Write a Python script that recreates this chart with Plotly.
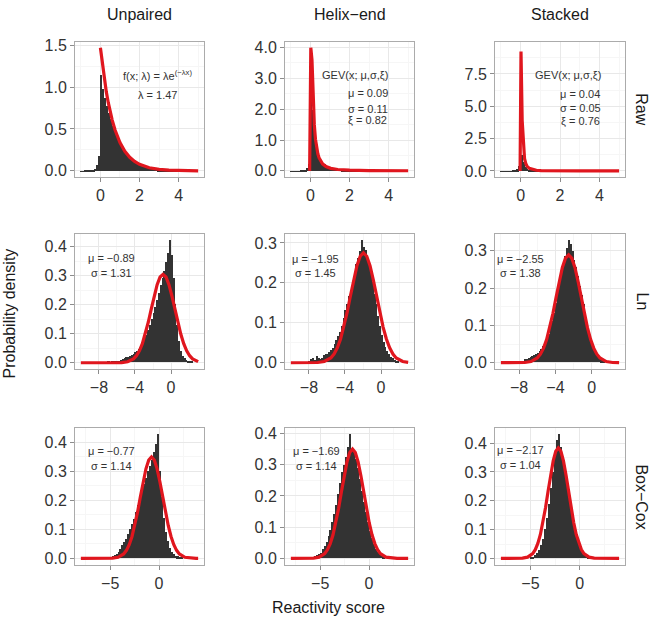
import plotly.graph_objects as go

W, H = 652, 620

col_labels = ["Unpaired", "Helix−end", "Stacked"]
row_labels = ["Raw", "Ln", "Box−Cox"]
x_title = "Reactivity score"
y_title = "Probability density"

# ---------------- histogram bin heights (probability density) ----------------
raw_bin_start, raw_bin_width = -1.0, 0.1
raw_unpaired_hist = [0.003, 0.003, 0.004, 0.004, 0.005, 0.006, 0.01, 0.03, 0.07, 0.18,
                     1.15, 0.98, 0.87, 0.78, 0.70, 0.62, 0.54, 0.47, 0.41, 0.36,
                     0.32, 0.27, 0.23, 0.20, 0.17, 0.145, 0.125, 0.11, 0.095, 0.08,
                     0.07, 0.06, 0.052, 0.045, 0.04, 0.035, 0.03, 0.027, 0.024, 0.02,
                     0.018, 0.016, 0.014, 0.012, 0.011, 0.01, 0.009, 0.008, 0.007, 0.006]
raw_helix_hist = [0.005, 0.005, 0.006, 0.006, 0.008, 0.01, 0.02, 0.05, 0.10, 0.25,
                  3.0, 2.0, 1.1, 0.66, 0.45, 0.34, 0.27, 0.22, 0.18, 0.15,
                  0.13, 0.11, 0.095, 0.085, 0.075, 0.065, 0.058, 0.052, 0.047, 0.042,
                  0.038, 0.034, 0.031, 0.028, 0.025, 0.023, 0.021, 0.019, 0.017, 0.015,
                  0.014, 0.013, 0.012, 0.011, 0.01, 0.009, 0.008, 0.007, 0.006, 0.005]
raw_stacked_hist = [0.01, 0.01, 0.01, 0.012, 0.015, 0.02, 0.03, 0.06, 0.15, 0.45,
                    1.25, 0.75, 0.35, 0.20, 0.13, 0.10, 0.08, 0.065, 0.055, 0.045,
                    0.04, 0.035, 0.03, 0.027, 0.024, 0.021, 0.019, 0.017, 0.015, 0.013,
                    0.012, 0.011, 0.01, 0.009, 0.008, 0.007, 0.007, 0.006, 0.006, 0.005,
                    0.005, 0.004, 0.004, 0.004, 0.003, 0.003, 0.003, 0.003, 0.002, 0.002]

ln_bin_width = 0.2
ln_unpaired_start = -7.0
ln_unpaired_hist = [0.002, 0.0, 0.003, 0.002, 0.004, 0.005, 0.006, 0.008, 0.01, 0.015,
                    0.02, 0.018, 0.022, 0.026, 0.03, 0.034, 0.04, 0.047, 0.055, 0.07,
                    0.085, 0.095, 0.11, 0.13, 0.15, 0.17, 0.19, 0.215, 0.24, 0.265,
                    0.29, 0.315, 0.345, 0.375, 0.42, 0.37, 0.29, 0.20, 0.13, 0.075,
                    0.04, 0.022, 0.014, 0.008, 0.005, 0.003, 0.002]
ln_helix_start = -8.0
ln_helix_hist = [0.003, 0.008, 0.012, 0.006, 0.015, 0.01, 0.008, 0.012, 0.018, 0.02,
                 0.022, 0.025, 0.03, 0.035, 0.045, 0.055, 0.065, 0.075, 0.09, 0.11,
                 0.13, 0.145, 0.165, 0.18, 0.20, 0.225, 0.245, 0.26, 0.28, 0.306,
                 0.29, 0.282, 0.265, 0.25, 0.225, 0.20, 0.17, 0.145, 0.115, 0.09,
                 0.068, 0.05, 0.038, 0.028, 0.02, 0.014, 0.01, 0.007, 0.004, 0.002]
ln_stacked_start = -7.6
ln_stacked_hist = [0.004, 0.008, 0.01, 0.012, 0.015, 0.018, 0.02, 0.022, 0.026, 0.03,
                   0.036, 0.043, 0.052, 0.063, 0.076, 0.092, 0.11, 0.133, 0.16, 0.19,
                   0.215, 0.24, 0.262, 0.285, 0.305, 0.327, 0.318, 0.298, 0.275, 0.255,
                   0.23, 0.205, 0.18, 0.155, 0.128, 0.102, 0.08, 0.06, 0.045, 0.032,
                   0.022, 0.015, 0.009, 0.005, 0.002]

bc_bin_width = 0.2
bc_unpaired_start = -5.0
bc_unpaired_hist = [0.004, 0.007, 0.01, 0.016, 0.022, 0.032, 0.045, 0.057, 0.068, 0.082,
                    0.10, 0.118, 0.137, 0.16, 0.183, 0.207, 0.23, 0.255, 0.278, 0.30,
                    0.318, 0.34, 0.365, 0.395, 0.428, 0.30, 0.21, 0.14, 0.09, 0.058,
                    0.035, 0.022, 0.014, 0.009, 0.006, 0.004, 0.002]
bc_helix_start = -5.8
bc_helix_hist = [0.003, 0.006, 0.01, 0.013, 0.018, 0.028, 0.038, 0.052, 0.07, 0.09,
                 0.115, 0.143, 0.172, 0.205, 0.24, 0.275, 0.30, 0.325, 0.355, 0.397,
                 0.35, 0.342, 0.318, 0.29, 0.255, 0.215, 0.18, 0.148, 0.115, 0.088,
                 0.064, 0.045, 0.03, 0.019, 0.012, 0.007, 0.003]
bc_stacked_start = -5.0
bc_stacked_hist = [0.003, 0.006, 0.01, 0.018, 0.03, 0.045, 0.068, 0.10, 0.14, 0.19,
                   0.245, 0.30, 0.36, 0.41, 0.43, 0.385, 0.35, 0.315, 0.27, 0.222,
                   0.178, 0.14, 0.105, 0.078, 0.056, 0.038, 0.025, 0.015, 0.009, 0.005, 0.003]

# ---------------- fitted density curves ----------------
raw_unpaired_curve_x = [0.0, 0.1, 0.2, 0.3, 0.4, 0.5, 0.6, 0.75, 1.0, 1.25, 1.5, 1.75, 2.0, 2.5, 3.0, 3.5, 4.0, 4.5, 5.0]
raw_unpaired_curve_y = [1.47, 1.269, 1.096, 0.946, 0.817, 0.705, 0.609, 0.488, 0.338, 0.234, 0.162, 0.112,
                        0.0777, 0.0373, 0.0179, 0.0086, 0.0041, 0.0020, 0.0009]
raw_helix_curve_x = [-0.04, 0.02, 0.08, 0.14, 0.20, 0.26, 0.32, 0.38, 0.44, 0.50, 0.62, 0.80, 1.04, 1.40, 2.0, 3.0, 4.0, 5.0]
raw_helix_curve_y = [0.0, 3.99, 3.60, 2.28, 1.49, 1.02, 0.737, 0.553, 0.427, 0.339, 0.227, 0.138, 0.081, 0.044,
                     0.021, 0.0087, 0.0047, 0.0029]
raw_stacked_curve_x = [-0.026, 0.02, 0.08, 0.14, 0.20, 0.26, 0.32, 0.44, 0.62, 0.80, 1.04, 1.40, 2.0, 3.0, 4.0, 5.0]
raw_stacked_curve_y = [0.0, 9.24, 3.90, 1.75, 0.944, 0.577, 0.383, 0.199, 0.096, 0.055, 0.031, 0.016, 0.0071,
                       0.0028, 0.0015, 0.0009]

ln_unpaired_curve_x = [-10.0, -8.0, -6.13, -5.475, -4.82, -4.165, -3.838, -3.51, -3.183, -2.855, -2.528, -2.20,
                       -1.873, -1.545, -1.218, -0.89, -0.563, -0.235, 0.093, 0.42, 0.748, 1.075, 1.403, 1.73,
                       2.058, 2.385, 3.0]
ln_unpaired_curve_y = [0.0, 0.0, 0.0001, 0.0007, 0.0034, 0.0134, 0.0242, 0.0412, 0.0659, 0.0989, 0.1394, 0.1847,
                       0.2299, 0.2687, 0.2951, 0.3045, 0.2951, 0.2687, 0.2299, 0.1847, 0.1394, 0.0989, 0.0659,
                       0.0412, 0.0242, 0.0134, 0.0037]
ln_helix_curve_x = [-10.0, -7.75, -7.025, -6.30, -5.575, -5.213, -4.85, -4.488, -4.125, -3.763, -3.40, -3.038,
                    -2.675, -2.313, -1.95, -1.588, -1.225, -0.863, -0.50, -0.138, 0.225, 0.588, 0.95, 1.313,
                    1.675, 2.40, 3.0]
ln_helix_curve_y = [0.0, 0.0001, 0.0006, 0.0031, 0.0121, 0.0219, 0.0372, 0.0595, 0.0893, 0.1259, 0.1669, 0.2077,
                    0.2428, 0.2666, 0.2751, 0.2666, 0.2428, 0.2077, 0.1669, 0.1259, 0.0893, 0.0595, 0.0372,
                    0.0219, 0.0121, 0.0031, 0.0008]
ln_stacked_curve_x = [-10.0, -8.07, -7.38, -6.69, -6.00, -5.655, -5.31, -4.965, -4.62, -4.275, -3.93, -3.585,
                      -3.24, -2.895, -2.55, -2.205, -1.86, -1.515, -1.17, -0.825, -0.48, -0.135, 0.21, 0.555,
                      0.90, 1.59, 2.28, 3.0]
ln_stacked_curve_y = [0.0, 0.0001, 0.0006, 0.0032, 0.0127, 0.0230, 0.0391, 0.0625, 0.0939, 0.1324, 0.1753,
                      0.2182, 0.2551, 0.2802, 0.2891, 0.2802, 0.2551, 0.2182, 0.1753, 0.1324, 0.0939, 0.0625,
                      0.0391, 0.0230, 0.0127, 0.0032, 0.0006, 0.0001]

bc_unpaired_curve_x = [-8.0, -5.33, -4.76, -4.19, -3.62, -3.335, -3.05, -2.765, -2.48, -2.195, -1.91, -1.625,
                       -1.34, -1.055, -0.77, -0.485, -0.20, 0.085, 0.37, 0.655, 0.94, 1.225, 1.51, 1.795, 2.08,
                       2.65, 3.22, 3.79, 4.0]
bc_unpaired_curve_y = [0.0, 0.0001, 0.0008, 0.0039, 0.0154, 0.0278, 0.0474, 0.0757, 0.1136, 0.1602, 0.2123,
                       0.2642, 0.3089, 0.3392, 0.35, 0.3392, 0.3089, 0.2642, 0.2123, 0.1602, 0.1136, 0.0757,
                       0.0474, 0.0278, 0.0154, 0.0039, 0.0008, 0.0001, 0.0001]
bc_helix_curve_x = [-8.0, -6.25, -5.68, -5.11, -4.54, -4.255, -3.97, -3.685, -3.40, -3.115, -2.83, -2.545,
                    -2.26, -1.975, -1.69, -1.405, -1.12, -0.835, -0.55, -0.265, 0.02, 0.305, 0.59, 0.875, 1.16,
                    1.73, 2.30, 2.87, 4.0]
bc_helix_curve_y = [0.0, 0.0001, 0.0008, 0.0039, 0.0154, 0.0278, 0.0474, 0.0757, 0.1136, 0.1602, 0.2123,
                    0.2642, 0.3089, 0.3392, 0.35, 0.3392, 0.3089, 0.2642, 0.2123, 0.1602, 0.1136, 0.0757,
                    0.0474, 0.0278, 0.0154, 0.0039, 0.0008, 0.0001, 0.0]
bc_stacked_curve_x = [-8.0, -6.33, -5.81, -5.29, -4.77, -4.51, -4.25, -3.99, -3.73, -3.47, -3.21, -2.95,
                      -2.69, -2.43, -2.17, -1.91, -1.65, -1.39, -1.13, -0.87, -0.61, -0.35, -0.09, 0.17, 0.43,
                      0.95, 1.47, 1.99, 4.0]
bc_stacked_curve_y = [0.0, 0.0001, 0.0008, 0.0043, 0.0169, 0.0305, 0.0519, 0.0830, 0.1245, 0.1756, 0.2327,
                      0.2896, 0.3385, 0.3718, 0.3836, 0.3718, 0.3385, 0.2896, 0.2327, 0.1756, 0.1245, 0.0830,
                      0.0519, 0.0305, 0.0169, 0.0043, 0.0008, 0.0001, 0.0]

# ---------------- fit labels ----------------
raw_unpaired_text = ["f(x; λ) = λe<sup>(−λx)</sup>", "λ = 1.47"]
raw_helix_text = ["GEV(x; μ,σ,ξ)", "μ = 0.09", "σ = 0.11", "ξ = 0.82"]
raw_stacked_text = ["GEV(x; μ,σ,ξ)", "μ = 0.04", "σ = 0.05", "ξ = 0.76"]
ln_unpaired_text = ["μ = −0.89", "σ = 1.31"]
ln_helix_text = ["μ = −1.95", "σ = 1.45"]
ln_stacked_text = ["μ = −2.55", "σ = 1.38"]
bc_unpaired_text = ["μ = −0.77", "σ = 1.14"]
bc_helix_text = ["μ = −1.69", "σ = 1.14"]
bc_stacked_text = ["μ = −2.17", "σ = 1.04"]

# ---------------- layout (pixels) ----------------
PANEL_X = [(75, 204), (285, 414), (495, 625)]
PANEL_Y = [(37, 174), (232, 368), (428, 566)]

ROW_XRANGE = [(-1.3, 5.3), (-10.65, 3.65), (-8.6, 4.6)]
ROW_XTICKS = [[0, 2, 4], [-8, -4, 0], [-5, 0]]
ROW_XTEXT = [["0", "2", "4"], ["−8", "−4", "0"], ["−5", "0"]]
ROW_XMINOR = [[-1, 1, 3, 5], [-10, -6, -2, 2], [-7.5, -2.5, 2.5]]

panels = [
    dict(hist=raw_unpaired_hist, start=raw_bin_start, w=raw_bin_width,
         cx=raw_unpaired_curve_x, cy=raw_unpaired_curve_y, text=raw_unpaired_text,
         tpos=[(2.92, 1.14), (2.92, 0.90)],
         yr=(-0.0735, 1.5435), yt=[0, 0.5, 1.0, 1.5], ym=[0.25, 0.75, 1.25]),
    dict(hist=raw_helix_hist, start=raw_bin_start, w=raw_bin_width,
         cx=raw_helix_curve_x, cy=raw_helix_curve_y, text=raw_helix_text,
         tpos=[(2.3, 3.1), (2.93, 2.51), (2.93, 2.02), (2.93, 1.64)],
         yr=(-0.2, 4.19), yt=[0, 1, 2, 3, 4], ym=[0.5, 1.5, 2.5, 3.5]),
    dict(hist=raw_stacked_hist, start=raw_bin_start, w=raw_bin_width,
         cx=raw_stacked_curve_x, cy=raw_stacked_curve_y, text=raw_stacked_text,
         tpos=[(2.39, 7.42), (3.03, 5.97), (3.03, 4.87), (3.03, 3.88)],
         yr=(-0.47, 10.0), yt=[0, 2.5, 5.0, 7.5], ym=[1.25, 3.75, 6.25, 8.75]),
    dict(hist=ln_unpaired_hist, start=ln_unpaired_start, w=ln_bin_width,
         cx=ln_unpaired_curve_x, cy=ln_unpaired_curve_y, text=ln_unpaired_text,
         tpos=[(-6.6, 0.36), (-6.6, 0.31)],
         yr=(-0.021, 0.442), yt=[0, 0.1, 0.2, 0.3, 0.4], ym=[0.05, 0.15, 0.25, 0.35]),
    dict(hist=ln_helix_hist, start=ln_helix_start, w=ln_bin_width,
         cx=ln_helix_curve_x, cy=ln_helix_curve_y, text=ln_helix_text,
         tpos=[(-7.3, 0.26), (-7.3, 0.225)],
         yr=(-0.0153, 0.3213), yt=[0, 0.1, 0.2, 0.3], ym=[0.05, 0.15, 0.25]),
    dict(hist=ln_stacked_hist, start=ln_stacked_start, w=ln_bin_width,
         cx=ln_stacked_curve_x, cy=ln_stacked_curve_y, text=ln_stacked_text,
         tpos=[(-7.8, 0.279), (-7.8, 0.241)],
         yr=(-0.0164, 0.3438), yt=[0, 0.1, 0.2, 0.3], ym=[0.05, 0.15, 0.25]),
    dict(hist=bc_unpaired_hist, start=bc_unpaired_start, w=bc_bin_width,
         cx=bc_unpaired_curve_x, cy=bc_unpaired_curve_y, text=bc_unpaired_text,
         tpos=[(-4.91, 0.369), (-4.91, 0.319)],
         yr=(-0.0214, 0.449), yt=[0, 0.1, 0.2, 0.3, 0.4], ym=[0.05, 0.15, 0.25, 0.35]),
    dict(hist=bc_helix_hist, start=bc_helix_start, w=bc_bin_width,
         cx=bc_helix_curve_x, cy=bc_helix_curve_y, text=bc_helix_text,
         tpos=[(-5.4, 0.343), (-5.4, 0.297)],
         yr=(-0.0199, 0.417), yt=[0, 0.1, 0.2, 0.3, 0.4], ym=[0.05, 0.15, 0.25, 0.35]),
    dict(hist=bc_stacked_hist, start=bc_stacked_start, w=bc_bin_width,
         cx=bc_stacked_curve_x, cy=bc_stacked_curve_y, text=bc_stacked_text,
         tpos=[(-5.97, 0.376), (-5.97, 0.323)],
         yr=(-0.0215, 0.452), yt=[0, 0.1, 0.2, 0.3, 0.4], ym=[0.05, 0.15, 0.25, 0.35]),
]

FONT = "Liberation Sans, Arial, Helvetica, sans-serif"
BAR_COLOR = "#333333"
CURVE_COLOR = "#e0161e"
GRID_MAJOR = "#e8e8e8"
GRID_MINOR = "#f6f6f6"
BORDER = "#ababab"

fig = go.Figure()
annotations = []
layout_axes = {}

for k, p in enumerate(panels):
    r, c = divmod(k, 3)
    idx = "" if k == 0 else str(k + 1)
    xa, ya = "x" + idx, "y" + idx

    centers = [p["start"] + p["w"] * (i + 0.5) for i in range(len(p["hist"]))]
    fig.add_trace(go.Bar(x=centers, y=p["hist"], width=p["w"], xaxis=xa, yaxis=ya,
                         marker=dict(color=BAR_COLOR, line=dict(width=0)),
                         showlegend=False, hoverinfo="skip"))
    fig.add_trace(go.Scatter(x=p["cx"], y=p["cy"], mode="lines", xaxis=xa, yaxis=ya,
                             line=dict(color=CURVE_COLOR, width=3.2),
                             showlegend=False, hoverinfo="skip"))

    x0, x1 = PANEL_X[c]
    y0, y1 = PANEL_Y[r]
    common = dict(showline=True, mirror=True, linecolor=BORDER, linewidth=1,
                  ticks="outside", ticklen=4, tickcolor="#8c8c8c", tickwidth=1,
                  showgrid=True, gridcolor=GRID_MAJOR, gridwidth=1, zeroline=False,
                  tickfont=dict(family=FONT, size=16, color="#333333"))
    layout_axes["xaxis" + idx] = dict(
        common, domain=[x0 / W, x1 / W], anchor=ya, range=list(ROW_XRANGE[r]),
        tickmode="array", tickvals=ROW_XTICKS[r], ticktext=ROW_XTEXT[r],
        minor=dict(tickvals=ROW_XMINOR[r], showgrid=True, gridcolor=GRID_MINOR, ticks=""))
    layout_axes["yaxis" + idx] = dict(
        common, domain=[1 - y1 / H, 1 - y0 / H], anchor=xa, range=list(p["yr"]),
        tickmode="array", tickvals=p["yt"], tickformat=".1f",
        minor=dict(tickvals=p["ym"], showgrid=True, gridcolor=GRID_MINOR, ticks=""))

    for txt, (tx, ty) in zip(p["text"], p["tpos"]):
        annotations.append(dict(text=txt, x=tx, y=ty, xref=xa, yref=ya, showarrow=False,
                                xanchor="center", yanchor="middle",
                                font=dict(family=FONT, size=11, color="#333333")))

# strip labels
for c, lab in enumerate(col_labels):
    x0, x1 = PANEL_X[c]
    annotations.append(dict(text=lab, x=(x0 + x1) / 2 / W, y=1 - 10 / H, xref="paper", yref="paper",
                            showarrow=False, xanchor="center", yanchor="middle",
                            font=dict(family=FONT, size=16, color="#1a1a1a")))
for r, lab in enumerate(row_labels):
    y0, y1 = PANEL_Y[r]
    annotations.append(dict(text=lab, x=642 / W, y=1 - (y0 + y1) / 2 / H, xref="paper", yref="paper",
                            showarrow=False, xanchor="center", yanchor="middle", textangle=90,
                            font=dict(family=FONT, size=16, color="#1a1a1a")))
# axis titles
annotations.append(dict(text=x_title, x=328 / W, y=1 - 609 / H, xref="paper", yref="paper",
                        showarrow=False, xanchor="center", yanchor="middle",
                        font=dict(family=FONT, size=16, color="#1a1a1a")))
annotations.append(dict(text=y_title, x=9 / W, y=1 - 312 / H, xref="paper", yref="paper",
                        showarrow=False, xanchor="center", yanchor="middle", textangle=-90,
                        font=dict(family=FONT, size=16, color="#1a1a1a")))

fig.update_layout(width=W, height=H, margin=dict(l=0, r=0, t=0, b=0),
                  paper_bgcolor="white", plot_bgcolor="white", bargap=0,
                  showlegend=False, annotations=annotations, **layout_axes)

fig.write_html("out.html", config={"displayModeBar": False},
               post_script="document.body.style.margin='0';document.body.style.padding='0';")
